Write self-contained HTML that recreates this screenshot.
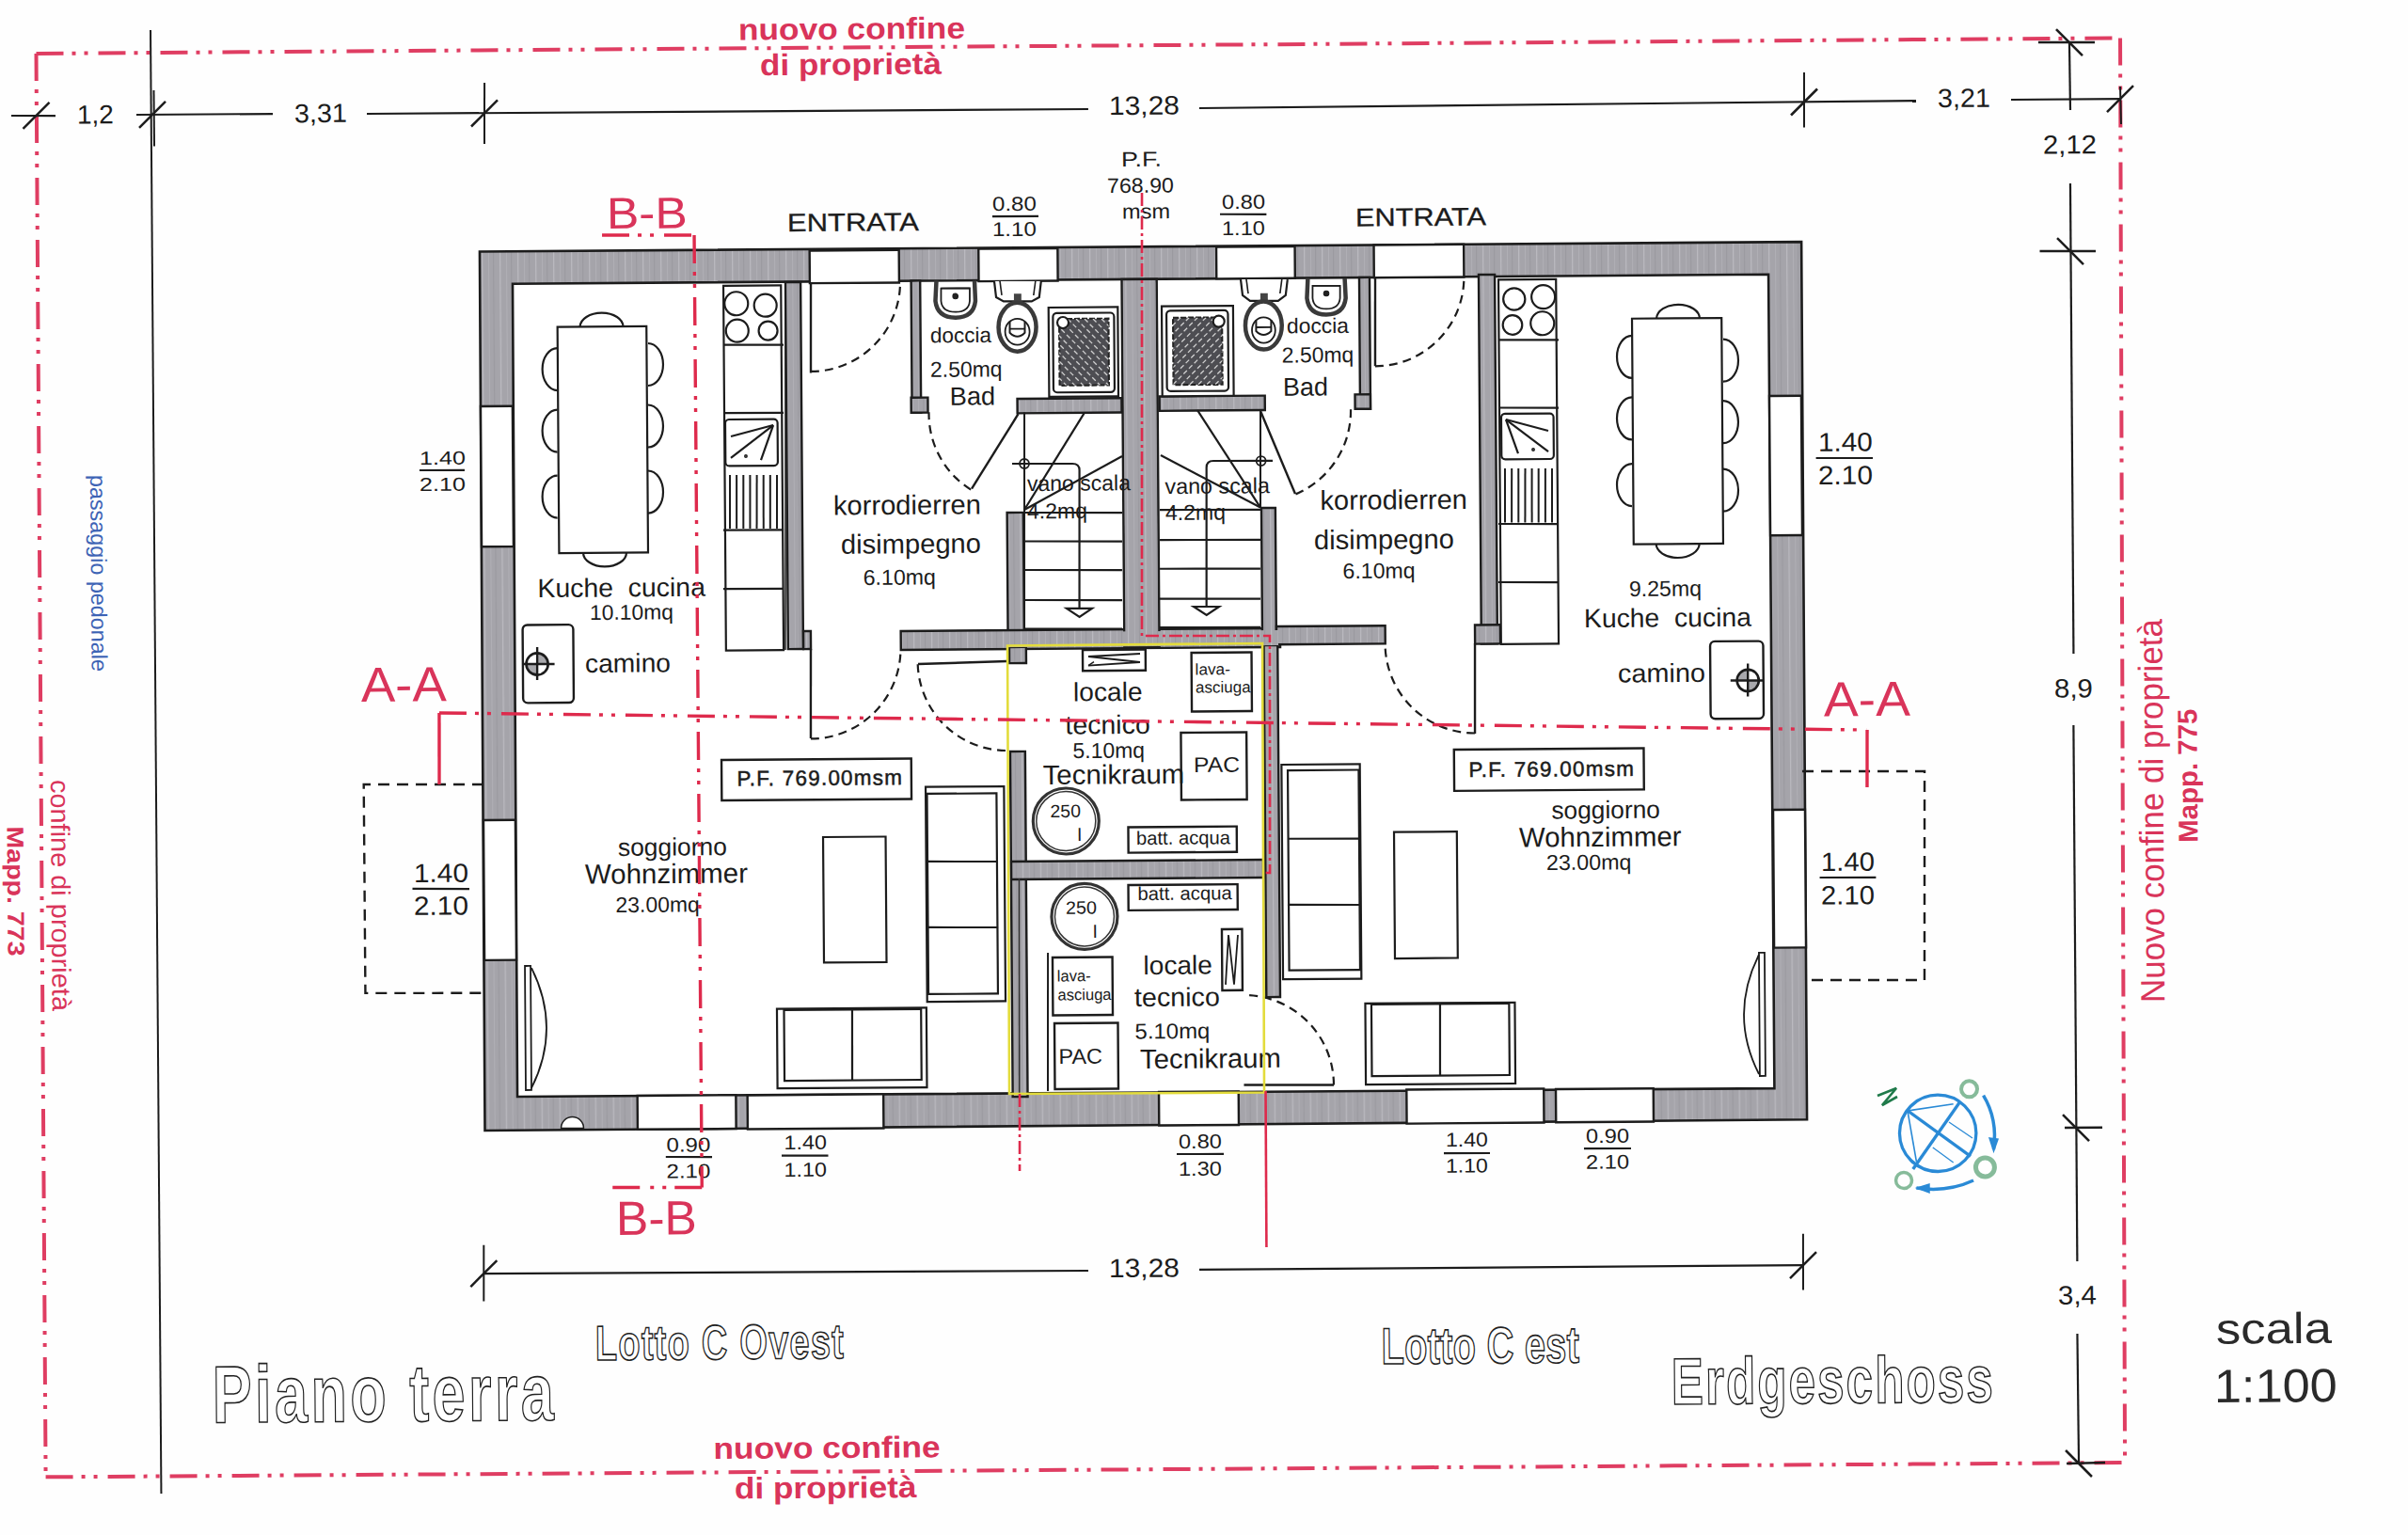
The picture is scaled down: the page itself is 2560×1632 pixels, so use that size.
<!DOCTYPE html>
<html><head><meta charset="utf-8"><style>
html,body{margin:0;padding:0;background:#fff;}
svg{display:block;}
text{font-family:"Liberation Sans",sans-serif;}
</style></head><body>
<svg width="2560" height="1632" viewBox="0 0 2560 1632">
<defs><pattern id="wp" patternUnits="userSpaceOnUse" width="19" height="40"><rect width="19" height="40" fill="#a5a4aa"/><rect x="3" width="1.3" height="40" fill="#bab9bf"/><rect x="10" width="0.9" height="40" fill="#b2b1b7"/><rect x="15" width="1.2" height="40" fill="#9b9aa0"/></pattern></defs>
<rect x="0" y="0" width="2560" height="1632" fill="#fefefe"/>
<g transform="rotate(-0.42 1280 816)">
<line x1="44.1" y1="47.9" x2="2259.7" y2="47.6" stroke="#df3d62" stroke-width="4" stroke-linecap="butt" stroke-dasharray="29 9 4 9 4 11" stroke-dashoffset="0"/>
<line x1="2259.7" y1="47.6" x2="2253.6" y2="1562.2" stroke="#df3d62" stroke-width="4" stroke-linecap="butt" stroke-dasharray="29 9 4 9 4 11" stroke-dashoffset="0"/>
<line x1="43.1" y1="1561.3" x2="2253.6" y2="1562.2" stroke="#df3d62" stroke-width="4" stroke-linecap="butt" stroke-dasharray="29 9 4 9 4 11" stroke-dashoffset="0"/>
<line x1="44.1" y1="47.9" x2="43.1" y2="1561.3" stroke="#df3d62" stroke-width="4" stroke-linecap="butt" stroke-dasharray="29 9 4 9 4 11" stroke-dashoffset="0"/>
<line x1="165.8" y1="23.8" x2="165.8" y2="1579.9" stroke="#1c1c1c" stroke-width="2" stroke-linecap="butt"/>
<polygon points="514,261.9 1919.2,261.8 1918.3,1195 512.7,1196.4" fill="url(#wp)" stroke="#1c1c1c" stroke-width="2.6" stroke-linejoin="miter"/>
<polygon points="548.8,296.4 1883.9,296.2 1883.9,1161.6 547.5,1160.6" fill="#fff" stroke="#1c1c1c" stroke-width="2.6" stroke-linejoin="miter"/>
<rect x="838.8" y="296.8" width="16.1" height="390.1" fill="url(#wp)" stroke="#1c1c1c" stroke-width="2.4"/>
<rect x="855.1" y="667.9" width="7.9" height="19.1" fill="url(#wp)" stroke="#1c1c1c" stroke-width="2.4"/>
<rect x="972.4" y="296.2" width="9.6" height="140.3" fill="url(#wp)" stroke="#1c1c1c" stroke-width="2.4"/>
<rect x="971.5" y="420.5" width="17.8" height="16" fill="url(#wp)" stroke="#1c1c1c" stroke-width="2.4"/>
<rect x="1084.4" y="422.6" width="110.9" height="15.3" fill="url(#wp)" stroke="#1c1c1c" stroke-width="2.4"/>
<rect x="1072.6" y="543.5" width="17.3" height="143.6" fill="url(#wp)" stroke="#1c1c1c" stroke-width="2.4"/>
<rect x="958.7" y="668.6" width="403.3" height="20" fill="url(#wp)" stroke="#1c1c1c" stroke-width="2.4"/>
<rect x="1196.3" y="296.4" width="37.2" height="391.3" fill="url(#wp)" stroke="#1c1c1c" stroke-width="2.4"/>
<rect x="1073.9" y="686.5" width="17.9" height="17.1" fill="url(#wp)" stroke="#1c1c1c" stroke-width="2.4"/>
<rect x="1074.1" y="797.5" width="15.9" height="367.1" fill="url(#wp)" stroke="#1c1c1c" stroke-width="2.4"/>
<rect x="1074.3" y="914.5" width="267.9" height="19" fill="url(#wp)" stroke="#1c1c1c" stroke-width="2.4"/>
<rect x="1344.5" y="684.5" width="14.7" height="376.1" fill="url(#wp)" stroke="#1c1c1c" stroke-width="2.4"/>
<rect x="1343" y="540.5" width="14.9" height="146.1" fill="url(#wp)" stroke="#1c1c1c" stroke-width="2.4"/>
<rect x="1235.5" y="421.1" width="112.1" height="15.4" fill="url(#wp)" stroke="#1c1c1c" stroke-width="2.4"/>
<rect x="1448.8" y="296.2" width="11" height="139.8" fill="url(#wp)" stroke="#1c1c1c" stroke-width="2.4"/>
<rect x="1443.4" y="420.6" width="16.4" height="15.4" fill="url(#wp)" stroke="#1c1c1c" stroke-width="2.4"/>
<rect x="1358.1" y="666.6" width="115.6" height="19.2" fill="url(#wp)" stroke="#1c1c1c" stroke-width="2.4"/>
<rect x="1575.8" y="294.2" width="17.1" height="392.5" fill="url(#wp)" stroke="#1c1c1c" stroke-width="2.4"/>
<rect x="1569.1" y="666.6" width="26.9" height="20.1" fill="url(#wp)" stroke="#1c1c1c" stroke-width="2.4"/>
<rect x="1197.8" y="299.4" width="34.2" height="386.3" fill="url(#wp)" stroke="none"/>
<rect x="963.1" y="670.7" width="396.9" height="15.9" fill="url(#wp)" stroke="none"/>
<rect x="864.7" y="263.4" width="95" height="34.7" fill="#fff" stroke="#1c1c1c" stroke-width="2.4"/>
<rect x="1044.3" y="262.9" width="84.1" height="34.5" fill="#fff" stroke="#1c1c1c" stroke-width="2.4"/>
<rect x="1297.1" y="262.7" width="83.5" height="33.8" fill="#fff" stroke="#1c1c1c" stroke-width="2.4"/>
<rect x="1464.6" y="261.8" width="95.6" height="34.7" fill="#fff" stroke="#1c1c1c" stroke-width="2.4"/>
<rect x="513.8" y="426.4" width="33.9" height="149.3" fill="#fff" stroke="#1c1c1c" stroke-width="2.4"/>
<rect x="513.6" y="866.4" width="33.9" height="148.9" fill="#fff" stroke="#1c1c1c" stroke-width="2.4"/>
<rect x="1883.9" y="425.4" width="33.9" height="148.3" fill="#fff" stroke="#1c1c1c" stroke-width="2.4"/>
<rect x="1884.7" y="865.4" width="33.9" height="146.7" fill="#fff" stroke="#1c1c1c" stroke-width="2.4"/>
<rect x="675.1" y="1160.6" width="104.7" height="35.8" fill="#fff" stroke="#1c1c1c" stroke-width="2.4"/>
<rect x="792.1" y="1160.9" width="144.5" height="36.1" fill="#fff" stroke="#1c1c1c" stroke-width="2.4"/>
<rect x="1229.5" y="1160.6" width="84.7" height="35.6" fill="#fff" stroke="#1c1c1c" stroke-width="2.4"/>
<rect x="1492.8" y="1160.1" width="145.9" height="36.1" fill="#fff" stroke="#1c1c1c" stroke-width="2.4"/>
<rect x="1651.5" y="1160.7" width="103.7" height="35.3" fill="#fff" stroke="#1c1c1c" stroke-width="2.4"/>
<path d="M 593.7 1194.5 A 12 12 0 0 1 617.7 1194.7 Z" fill="#fff" stroke="#1c1c1c" stroke-width="1.5"/>
<line x1="17.1" y1="113.7" x2="64.1" y2="114.1" stroke="#1c1c1c" stroke-width="2.2" stroke-linecap="butt"/>
<line x1="150.1" y1="113.7" x2="295.1" y2="113.8" stroke="#1c1c1c" stroke-width="2.2" stroke-linecap="butt"/>
<line x1="395.1" y1="114.5" x2="1162.1" y2="115.1" stroke="#1c1c1c" stroke-width="2.2" stroke-linecap="butt"/>
<line x1="1280.1" y1="115" x2="2042.2" y2="112.6" stroke="#1c1c1c" stroke-width="2.2" stroke-linecap="butt"/>
<line x1="2143.2" y1="112.3" x2="2259.2" y2="112.2" stroke="#1c1c1c" stroke-width="2.2" stroke-linecap="butt"/>
<line x1="29.5" y1="127.8" x2="57.7" y2="100" stroke="#1c1c1c" stroke-width="2.5" stroke-linecap="butt"/>
<line x1="153" y1="127.7" x2="181.2" y2="99.9" stroke="#1c1c1c" stroke-width="2.5" stroke-linecap="butt"/>
<line x1="506" y1="128.8" x2="534.2" y2="101" stroke="#1c1c1c" stroke-width="2.5" stroke-linecap="butt"/>
<line x1="1909.1" y1="127.1" x2="1937.3" y2="99.3" stroke="#1c1c1c" stroke-width="2.5" stroke-linecap="butt"/>
<line x1="2245.1" y1="126.1" x2="2273.3" y2="98.3" stroke="#1c1c1c" stroke-width="2.5" stroke-linecap="butt"/>
<line x1="168.8" y1="87.8" x2="168.9" y2="147.3" stroke="#1c1c1c" stroke-width="2" stroke-linecap="butt"/>
<line x1="520.4" y1="82.4" x2="519.9" y2="147.4" stroke="#1c1c1c" stroke-width="2" stroke-linecap="butt"/>
<line x1="1923.4" y1="81.7" x2="1923" y2="140.2" stroke="#1c1c1c" stroke-width="2" stroke-linecap="butt"/>
<line x1="2259.3" y1="99.2" x2="2260" y2="139.2" stroke="#1c1c1c" stroke-width="2" stroke-linecap="butt"/>
<line x1="2205.6" y1="51.8" x2="2206.1" y2="123.8" stroke="#1c1c1c" stroke-width="2.2" stroke-linecap="butt"/>
<line x1="2205.5" y1="201.8" x2="2205.3" y2="701.8" stroke="#1c1c1c" stroke-width="2.2" stroke-linecap="butt"/>
<line x1="2204.7" y1="777.8" x2="2204.5" y2="1347.8" stroke="#1c1c1c" stroke-width="2.2" stroke-linecap="butt"/>
<line x1="2204" y1="1424.8" x2="2204.6" y2="1562.8" stroke="#1c1c1c" stroke-width="2.2" stroke-linecap="butt"/>
<line x1="2172.6" y1="51.5" x2="2232.6" y2="52" stroke="#1c1c1c" stroke-width="2.4" stroke-linecap="butt"/>
<line x1="2191.7" y1="37.7" x2="2219.5" y2="65.9" stroke="#1c1c1c" stroke-width="2.5" stroke-linecap="butt"/>
<line x1="2172.5" y1="273.5" x2="2232" y2="274" stroke="#1c1c1c" stroke-width="2.4" stroke-linecap="butt"/>
<line x1="2191.1" y1="259.7" x2="2218.9" y2="287.9" stroke="#1c1c1c" stroke-width="2.5" stroke-linecap="butt"/>
<line x1="2192.2" y1="1205.7" x2="2232.2" y2="1205.7" stroke="#1c1c1c" stroke-width="2.4" stroke-linecap="butt"/>
<line x1="2190.3" y1="1191.7" x2="2218.1" y2="1219.9" stroke="#1c1c1c" stroke-width="2.5" stroke-linecap="butt"/>
<line x1="2191.6" y1="1562.7" x2="2232.6" y2="1562" stroke="#1c1c1c" stroke-width="2.4" stroke-linecap="butt"/>
<line x1="2190.7" y1="1548.7" x2="2218.4" y2="1576.9" stroke="#1c1c1c" stroke-width="2.5" stroke-linecap="butt"/>
<line x1="510.4" y1="1348.4" x2="1153.1" y2="1350.1" stroke="#1c1c1c" stroke-width="2.2" stroke-linecap="butt"/>
<line x1="1271.1" y1="1349.9" x2="1913.1" y2="1349.7" stroke="#1c1c1c" stroke-width="2.2" stroke-linecap="butt"/>
<line x1="496.3" y1="1362.3" x2="524.5" y2="1334.5" stroke="#1c1c1c" stroke-width="2.5" stroke-linecap="butt"/>
<line x1="1899" y1="1363.6" x2="1927.2" y2="1335.8" stroke="#1c1c1c" stroke-width="2.5" stroke-linecap="butt"/>
<line x1="510.6" y1="1318.1" x2="510.2" y2="1377.9" stroke="#1c1c1c" stroke-width="2" stroke-linecap="butt"/>
<line x1="1913.3" y1="1316.4" x2="1912.9" y2="1376.2" stroke="#1c1c1c" stroke-width="2" stroke-linecap="butt"/>
<text x="87" y="122.7" font-size="28" fill="#1c1c1c" font-weight="normal" text-anchor="start" textLength="39" lengthAdjust="spacingAndGlyphs">1,2</text>
<text x="318.1" y="123.1" font-size="28" fill="#1c1c1c" font-weight="normal" text-anchor="start" textLength="56" lengthAdjust="spacingAndGlyphs">3,31</text>
<text x="1184.1" y="121.3" font-size="28" fill="#1c1c1c" font-weight="normal" text-anchor="start" textLength="75" lengthAdjust="spacingAndGlyphs">13,28</text>
<text x="2065.1" y="119.7" font-size="28" fill="#1c1c1c" font-weight="normal" text-anchor="start" textLength="56" lengthAdjust="spacingAndGlyphs">3,21</text>
<text x="2176.8" y="170.1" font-size="28" fill="#1c1c1c" font-weight="normal" text-anchor="start" textLength="57" lengthAdjust="spacingAndGlyphs">2,12</text>
<text x="2184.5" y="748.2" font-size="28" fill="#1c1c1c" font-weight="normal" text-anchor="start" textLength="41" lengthAdjust="spacingAndGlyphs">8,9</text>
<text x="2183.8" y="1393.3" font-size="28" fill="#1c1c1c" font-weight="normal" text-anchor="start" textLength="41" lengthAdjust="spacingAndGlyphs">3,4</text>
<text x="1175" y="1357.2" font-size="28" fill="#1c1c1c" font-weight="normal" text-anchor="start" textLength="75" lengthAdjust="spacingAndGlyphs">13,28</text>
<text x="2351.5" y="1436.5" font-size="46" fill="#2a2a2a" font-weight="normal" text-anchor="start" textLength="123" lengthAdjust="spacingAndGlyphs">scala</text>
<text x="2349" y="1498.9" font-size="50" fill="#2a2a2a" font-weight="normal" text-anchor="start" textLength="131" lengthAdjust="spacingAndGlyphs">1:100</text>
<text x="1059.3" y="222.4" font-size="21" fill="#1c1c1c" font-weight="normal" text-anchor="start" textLength="47" lengthAdjust="spacingAndGlyphs">0.80</text>
<text x="1059.1" y="249.4" font-size="21" fill="#1c1c1c" font-weight="normal" text-anchor="start" textLength="47" lengthAdjust="spacingAndGlyphs">1.10</text>
<line x1="1059.3" y1="228.4" x2="1108.3" y2="228.7" stroke="#1c1c1c" stroke-width="2.2" stroke-linecap="butt"/>
<text x="1303.4" y="222.2" font-size="21" fill="#1c1c1c" font-weight="normal" text-anchor="start" textLength="46" lengthAdjust="spacingAndGlyphs">0.80</text>
<text x="1303.1" y="250.2" font-size="21" fill="#1c1c1c" font-weight="normal" text-anchor="start" textLength="46" lengthAdjust="spacingAndGlyphs">1.10</text>
<line x1="1301.3" y1="227.9" x2="1350.7" y2="228.3" stroke="#1c1c1c" stroke-width="2.2" stroke-linecap="butt"/>
<text x="448.4" y="487.9" font-size="20" fill="#1c1c1c" font-weight="normal" text-anchor="start" textLength="49" lengthAdjust="spacingAndGlyphs">1.40</text>
<text x="448.2" y="515.9" font-size="20" fill="#1c1c1c" font-weight="normal" text-anchor="start" textLength="49" lengthAdjust="spacingAndGlyphs">2.10</text>
<line x1="448.3" y1="493.9" x2="496.3" y2="494.2" stroke="#1c1c1c" stroke-width="2.2" stroke-linecap="butt"/>
<text x="1935.4" y="484.6" font-size="28" fill="#1c1c1c" font-weight="normal" text-anchor="start" textLength="58" lengthAdjust="spacingAndGlyphs">1.40</text>
<text x="1935.2" y="519.8" font-size="28" fill="#1c1c1c" font-weight="normal" text-anchor="start" textLength="58" lengthAdjust="spacingAndGlyphs">2.10</text>
<line x1="1933" y1="491.8" x2="1993.4" y2="492.2" stroke="#1c1c1c" stroke-width="2.2" stroke-linecap="butt"/>
<text x="439.1" y="931.8" font-size="28" fill="#1c1c1c" font-weight="normal" text-anchor="start" textLength="58" lengthAdjust="spacingAndGlyphs">1.40</text>
<text x="438.9" y="966.6" font-size="28" fill="#1c1c1c" font-weight="normal" text-anchor="start" textLength="58" lengthAdjust="spacingAndGlyphs">2.10</text>
<line x1="437.6" y1="938.8" x2="498.1" y2="939.3" stroke="#1c1c1c" stroke-width="2.2" stroke-linecap="butt"/>
<text x="1935.2" y="930.8" font-size="28" fill="#1c1c1c" font-weight="normal" text-anchor="start" textLength="57" lengthAdjust="spacingAndGlyphs">1.40</text>
<text x="1934.9" y="966.4" font-size="28" fill="#1c1c1c" font-weight="normal" text-anchor="start" textLength="57" lengthAdjust="spacingAndGlyphs">2.10</text>
<line x1="1933.7" y1="937.8" x2="1993.5" y2="938.2" stroke="#1c1c1c" stroke-width="2.2" stroke-linecap="butt"/>
<text x="705.5" y="1220.4" font-size="21" fill="#1c1c1c" font-weight="normal" text-anchor="start" textLength="47" lengthAdjust="spacingAndGlyphs">0.90</text>
<text x="705.3" y="1248.3" font-size="21" fill="#1c1c1c" font-weight="normal" text-anchor="start" textLength="47" lengthAdjust="spacingAndGlyphs">2.10</text>
<line x1="704.8" y1="1225.8" x2="754" y2="1226.2" stroke="#1c1c1c" stroke-width="2.2" stroke-linecap="butt"/>
<text x="830.5" y="1218.7" font-size="21" fill="#1c1c1c" font-weight="normal" text-anchor="start" textLength="45.5" lengthAdjust="spacingAndGlyphs">1.40</text>
<text x="830.3" y="1247.7" font-size="21" fill="#1c1c1c" font-weight="normal" text-anchor="start" textLength="45.5" lengthAdjust="spacingAndGlyphs">1.10</text>
<line x1="828" y1="1225.3" x2="877.5" y2="1225.7" stroke="#1c1c1c" stroke-width="2.2" stroke-linecap="butt"/>
<text x="1250" y="1220.8" font-size="21" fill="#1c1c1c" font-weight="normal" text-anchor="start" textLength="46" lengthAdjust="spacingAndGlyphs">0.80</text>
<text x="1249.8" y="1249.8" font-size="21" fill="#1c1c1c" font-weight="normal" text-anchor="start" textLength="46" lengthAdjust="spacingAndGlyphs">1.30</text>
<line x1="1248" y1="1226.8" x2="1298" y2="1227.1" stroke="#1c1c1c" stroke-width="2.2" stroke-linecap="butt"/>
<text x="1534" y="1220.9" font-size="21" fill="#1c1c1c" font-weight="normal" text-anchor="start" textLength="45" lengthAdjust="spacingAndGlyphs">1.40</text>
<text x="1533.8" y="1248.5" font-size="21" fill="#1c1c1c" font-weight="normal" text-anchor="start" textLength="45" lengthAdjust="spacingAndGlyphs">1.10</text>
<line x1="1532" y1="1227.9" x2="1581" y2="1228.2" stroke="#1c1c1c" stroke-width="2.2" stroke-linecap="butt"/>
<text x="1683.1" y="1218" font-size="21" fill="#1c1c1c" font-weight="normal" text-anchor="start" textLength="46" lengthAdjust="spacingAndGlyphs">0.90</text>
<text x="1682.9" y="1245.6" font-size="21" fill="#1c1c1c" font-weight="normal" text-anchor="start" textLength="46" lengthAdjust="spacingAndGlyphs">2.10</text>
<line x1="1681" y1="1224" x2="1731" y2="1224.3" stroke="#1c1c1c" stroke-width="2.2" stroke-linecap="butt"/>
<text x="1196.7" y="176.4" font-size="22" fill="#1c1c1c" font-weight="normal" text-anchor="start" textLength="43" lengthAdjust="spacingAndGlyphs">P.F.</text>
<text x="1181.5" y="204.3" font-size="22" fill="#1c1c1c" font-weight="normal" text-anchor="start" textLength="71" lengthAdjust="spacingAndGlyphs">768.90</text>
<text x="1197.3" y="231.9" font-size="22" fill="#1c1c1c" font-weight="normal" text-anchor="start" textLength="51" lengthAdjust="spacingAndGlyphs">msm</text>
<text x="841.2" y="242.8" font-size="27" fill="#1c1c1c" font-weight="normal" text-anchor="start" textLength="140" lengthAdjust="spacingAndGlyphs" stroke="#1c1c1c" stroke-width="0.3">ENTRATA</text>
<text x="1445.2" y="241.7" font-size="27" fill="#1c1c1c" font-weight="normal" text-anchor="start" textLength="139" lengthAdjust="spacingAndGlyphs" stroke="#1c1c1c" stroke-width="0.3">ENTRATA</text>
<text x="790.7" y="38.9" font-size="32" fill="#d9345a" font-weight="bold" text-anchor="start" textLength="241" lengthAdjust="spacingAndGlyphs">nuovo confine</text>
<text x="813.4" y="76.6" font-size="32" fill="#d9345a" font-weight="bold" text-anchor="start" textLength="193" lengthAdjust="spacingAndGlyphs">di proprietà</text>
<text x="753.2" y="1547.2" font-size="32" fill="#d9345a" font-weight="bold" text-anchor="start" textLength="241.2" lengthAdjust="spacingAndGlyphs">nuovo confine</text>
<text x="775.3" y="1589.7" font-size="32" fill="#d9345a" font-weight="bold" text-anchor="start" textLength="193.5" lengthAdjust="spacingAndGlyphs">di proprietà</text>
<text x="649.2" y="238.4" font-size="47" fill="#d9345a" font-weight="normal" text-anchor="start" textLength="86" lengthAdjust="spacingAndGlyphs">B-B</text>
<text x="651.4" y="1308.4" font-size="51" fill="#d9345a" font-weight="normal" text-anchor="start" textLength="86" lengthAdjust="spacingAndGlyphs">B-B</text>
<text x="384.5" y="739.4" font-size="52" fill="#d9345a" font-weight="normal" text-anchor="start" textLength="91" lengthAdjust="spacingAndGlyphs">A-A</text>
<text x="1939.4" y="766.3" font-size="52" fill="#d9345a" font-weight="normal" text-anchor="start" textLength="92" lengthAdjust="spacingAndGlyphs">A-A</text>
<text x="98.3" y="496.3" font-size="23.5" fill="#3d63b5" font-weight="normal" text-anchor="start" textLength="209" lengthAdjust="spacingAndGlyphs" transform="rotate(90 98.3 496.3)">passaggio pedonale</text>
<text x="53.9" y="820" font-size="28" fill="#d9345a" font-weight="normal" text-anchor="start" textLength="246" lengthAdjust="spacingAndGlyphs" transform="rotate(90 53.9 820)">confine di proprietà</text>
<text x="7.1" y="869.2" font-size="25" fill="#d9345a" font-weight="bold" text-anchor="start" textLength="138" lengthAdjust="spacingAndGlyphs" transform="rotate(90 7.1 869.2)">Mapp. 773</text>
<text x="2299.5" y="1073.5" font-size="36" fill="#d9345a" font-weight="normal" text-anchor="start" textLength="408" lengthAdjust="spacingAndGlyphs" transform="rotate(-90 2299.5 1073.5)">Nuovo confine di proprietà</text>
<text x="2335.9" y="903.4" font-size="29" fill="#d9345a" font-weight="bold" text-anchor="start" textLength="142" lengthAdjust="spacingAndGlyphs" transform="rotate(-90 2335.9 903.4)">Mapp. 775</text>
<g transform="translate(220.9 1504.7) scale(0.73 1)"><text x="0" y="0" font-size="86" font-weight="bold" fill="#fff" stroke="#222" stroke-width="1.4" vector-effect="non-scaling-stroke" textLength="497.3" lengthAdjust="spacing">Piano terra</text></g>
<g transform="translate(628.4 1441.2) scale(0.73 1)"><text x="0" y="0" font-size="52" font-weight="bold" fill="#fff" stroke="#222" stroke-width="1.4" vector-effect="non-scaling-stroke" textLength="361.6" lengthAdjust="spacing">Lotto C Ovest</text></g>
<g transform="translate(1464 1451.4) scale(0.73 1)"><text x="0" y="0" font-size="54.5" font-weight="bold" fill="#fff" stroke="#222" stroke-width="1.4" vector-effect="non-scaling-stroke" textLength="288.1" lengthAdjust="spacing">Lotto C est</text></g>
<g transform="translate(1772 1496.6) scale(0.73 1)"><text x="0" y="0" font-size="70" font-weight="bold" fill="#fff" stroke="#222" stroke-width="1.4" vector-effect="non-scaling-stroke" textLength="468.5" lengthAdjust="spacing">Erdgeschoss</text></g>
<line x1="865.8" y1="296.9" x2="865.1" y2="393.4" stroke="#1c1c1c" stroke-width="2.4" stroke-linecap="butt"/>
<path d="M 865.1 391.9 A 95 95 0 0 0 960.8 297.6" fill="none" stroke="#1c1c1c" stroke-width="2.2" stroke-dasharray="9 6"/>
<line x1="862.9" y1="686.9" x2="862.2" y2="781.9" stroke="#1c1c1c" stroke-width="2.4" stroke-linecap="butt"/>
<path d="M 862.2 782.4 A 95.5 95.5 0 0 0 958.4 687.6" fill="none" stroke="#1c1c1c" stroke-width="2.2" stroke-dasharray="9 6"/>
<line x1="1085.3" y1="438.6" x2="1035.2" y2="517.8" stroke="#1c1c1c" stroke-width="2.4" stroke-linecap="butt"/>
<path d="M 1034.3 518.8 A 95 95 0 0 1 990.3 436.2" fill="none" stroke="#1c1c1c" stroke-width="2.2" stroke-dasharray="9 6"/>
<line x1="1071.4" y1="701.5" x2="976.8" y2="703.8" stroke="#1c1c1c" stroke-width="2.4" stroke-linecap="butt"/>
<path d="M 976.5 704.1 A 95 95 0 0 0 1070.7 796.5" fill="none" stroke="#1c1c1c" stroke-width="2.2" stroke-dasharray="9 6"/>
<line x1="1465.8" y1="296.3" x2="1465.1" y2="390.7" stroke="#1c1c1c" stroke-width="2.4" stroke-linecap="butt"/>
<path d="M 1465.1 390.7 A 94.4 94.4 0 0 0 1560.2 297" fill="none" stroke="#1c1c1c" stroke-width="2.2" stroke-dasharray="9 6"/>
<line x1="1569" y1="686.1" x2="1568.3" y2="782.1" stroke="#1c1c1c" stroke-width="2.4" stroke-linecap="butt"/>
<path d="M 1568.3 781.6 A 95.5 95.5 0 0 1 1473.5 685.4" fill="none" stroke="#1c1c1c" stroke-width="2.2" stroke-dasharray="9 6"/>
<line x1="1342.8" y1="437.5" x2="1379.1" y2="525.7" stroke="#1c1c1c" stroke-width="2.4" stroke-linecap="butt"/>
<path d="M 1379.6 526.1 A 96 96 0 0 0 1438.8 436.5" fill="none" stroke="#1c1c1c" stroke-width="2.2" stroke-dasharray="9 6"/>
<line x1="1320" y1="1153.8" x2="1415.5" y2="1154.5" stroke="#1c1c1c" stroke-width="2.4" stroke-linecap="butt"/>
<path d="M 1415.5 1154.5 A 95.5 95.5 0 0 0 1320.7 1058.3" fill="none" stroke="#1c1c1c" stroke-width="2.2" stroke-dasharray="9 6"/>
<rect x="556.5" y="1021.7" width="6" height="132" fill="#fff" stroke="#1c1c1c" stroke-width="1.8"/>
<path d="M 563.5 1023.8 Q 595 1088 562.5 1151.7" fill="none" stroke="#1c1c1c" stroke-width="1.8"/>
<rect x="1868.5" y="1017.3" width="6" height="131" fill="#fff" stroke="#1c1c1c" stroke-width="1.8"/>
<path d="M 1868.5 1019.3 Q 1836.1 1083.1 1867.6 1146.3" fill="none" stroke="#1c1c1c" stroke-width="1.8"/>
<polyline points="513.9,828.4 386.6,827.5 386.7,1049.3 513.3,1050.2" fill="none" stroke="#1c1c1c" stroke-width="2.4" stroke-linejoin="miter" stroke-dasharray="12 8"/>
<polyline points="1916,824.7 2046,825.6 2044.3,1047.6 1916.3,1046.7" fill="none" stroke="#1c1c1c" stroke-width="2.4" stroke-linejoin="miter" stroke-dasharray="12 8"/>
<rect x="596.1" y="342.6" width="94.6" height="240.5" fill="#fff" stroke="#1c1c1c" stroke-width="2.2"/>
<path d="M 620 342.7 A 23.0 15 0 0 1 666 343.1" fill="none" stroke="#1c1c1c" stroke-width="2.2"/>
<path d="M 621.7 582.6 A 23.0 15 0 0 0 667.7 582.9" fill="none" stroke="#1c1c1c" stroke-width="2.2"/>
<path d="M 595.9 365 A 16 22.5 0 0 0 595.6 410" fill="none" stroke="#1c1c1c" stroke-width="2.2"/>
<path d="M 595.4 430.5 A 16 22.5 0 0 0 595.1 475.5" fill="none" stroke="#1c1c1c" stroke-width="2.2"/>
<path d="M 594.9 500.5 A 16 22.5 0 0 0 594.6 545.5" fill="none" stroke="#1c1c1c" stroke-width="2.2"/>
<path d="M 692.3 360.7 A 16 22.5 0 0 1 692 405.7" fill="none" stroke="#1c1c1c" stroke-width="2.2"/>
<path d="M 691.8 426.2 A 16 22.5 0 0 1 691.5 471.2" fill="none" stroke="#1c1c1c" stroke-width="2.2"/>
<path d="M 691.3 496.2 A 16 22.5 0 0 1 691 541.2" fill="none" stroke="#1c1c1c" stroke-width="2.2"/>
<rect x="1738.5" y="342.1" width="95.2" height="239.9" fill="#fff" stroke="#1c1c1c" stroke-width="2.2"/>
<path d="M 1764.5 342.3 A 23.0 15 0 0 1 1810.5 342.7" fill="none" stroke="#1c1c1c" stroke-width="2.2"/>
<path d="M 1762.4 581.5 A 23.0 15 0 0 0 1808.4 581.9" fill="none" stroke="#1c1c1c" stroke-width="2.2"/>
<path d="M 1738.4 360.3 A 16 22.5 0 0 0 1738 405.3" fill="none" stroke="#1c1c1c" stroke-width="2.2"/>
<path d="M 1737.9 425.8 A 16 22.5 0 0 0 1737.5 470.8" fill="none" stroke="#1c1c1c" stroke-width="2.2"/>
<path d="M 1737.4 496.4 A 16 22.5 0 0 0 1737 541.4" fill="none" stroke="#1c1c1c" stroke-width="2.2"/>
<path d="M 1835.3 364.6 A 16 22.5 0 0 1 1835 409.6" fill="none" stroke="#1c1c1c" stroke-width="2.2"/>
<path d="M 1834.8 430.2 A 16 22.5 0 0 1 1834.5 475.2" fill="none" stroke="#1c1c1c" stroke-width="2.2"/>
<path d="M 1834.3 502.6 A 16 22.5 0 0 1 1834 547.6" fill="none" stroke="#1c1c1c" stroke-width="2.2"/>
<rect x="772.8" y="300.1" width="61.2" height="387.7" fill="#fff" stroke="#1c1c1c" stroke-width="2.2"/>
<line x1="772.3" y1="362.9" x2="836.3" y2="363.3" stroke="#1c1c1c" stroke-width="2.2" stroke-linecap="butt"/>
<line x1="771.8" y1="435.3" x2="835.8" y2="435.7" stroke="#1c1c1c" stroke-width="2.2" stroke-linecap="butt"/>
<line x1="770.9" y1="559.8" x2="834.9" y2="560.2" stroke="#1c1c1c" stroke-width="2.2" stroke-linecap="butt"/>
<line x1="770.4" y1="622.3" x2="834.4" y2="622.7" stroke="#1c1c1c" stroke-width="2.2" stroke-linecap="butt"/>
<rect x="773.7" y="442.3" width="55.6" height="49.4" fill="none" stroke="#1c1c1c" stroke-width="2.2" rx="4"/>
<line x1="824.7" y1="448.7" x2="779.6" y2="460.3" stroke="#1c1c1c" stroke-width="2.2" stroke-linecap="butt"/>
<line x1="824.7" y1="448.7" x2="779.4" y2="483.3" stroke="#1c1c1c" stroke-width="2.2" stroke-linecap="butt"/>
<line x1="824.7" y1="448.7" x2="811.4" y2="485.6" stroke="#1c1c1c" stroke-width="2.2" stroke-linecap="butt"/>
<circle cx="795.4" cy="481.4" r="1.2" fill="none" stroke="#1c1c1c" stroke-width="1.5"/>
<line x1="778.3" y1="501.3" x2="777.9" y2="558.3" stroke="#1c1c1c" stroke-width="2" stroke-linecap="butt"/>
<line x1="785.4" y1="501.4" x2="785" y2="558.4" stroke="#1c1c1c" stroke-width="2" stroke-linecap="butt"/>
<line x1="792.6" y1="501.4" x2="792.2" y2="558.4" stroke="#1c1c1c" stroke-width="2" stroke-linecap="butt"/>
<line x1="799.7" y1="501.5" x2="799.3" y2="558.5" stroke="#1c1c1c" stroke-width="2" stroke-linecap="butt"/>
<line x1="806.9" y1="501.5" x2="806.4" y2="558.5" stroke="#1c1c1c" stroke-width="2" stroke-linecap="butt"/>
<line x1="814" y1="501.6" x2="813.6" y2="558.6" stroke="#1c1c1c" stroke-width="2" stroke-linecap="butt"/>
<line x1="821.1" y1="501.6" x2="820.7" y2="558.6" stroke="#1c1c1c" stroke-width="2" stroke-linecap="butt"/>
<line x1="828.3" y1="501.7" x2="827.9" y2="558.7" stroke="#1c1c1c" stroke-width="2" stroke-linecap="butt"/>
<circle cx="786.4" cy="319.1" r="12.5" fill="none" stroke="#1c1c1c" stroke-width="2.2"/>
<circle cx="817.3" cy="321.3" r="12" fill="none" stroke="#1c1c1c" stroke-width="2.2"/>
<circle cx="787.2" cy="348" r="12" fill="none" stroke="#1c1c1c" stroke-width="2.2"/>
<circle cx="820" cy="348.2" r="10" fill="none" stroke="#1c1c1c" stroke-width="2.2"/>
<line x1="838.8" y1="299.8" x2="835.9" y2="687.7" stroke="#1c1c1c" stroke-width="1.5" stroke-linecap="butt"/>
<rect x="1596.8" y="299.6" width="61.2" height="387.6" fill="#fff" stroke="#1c1c1c" stroke-width="2.2"/>
<line x1="1596.3" y1="363.6" x2="1660.3" y2="364.1" stroke="#1c1c1c" stroke-width="2.2" stroke-linecap="butt"/>
<line x1="1595.8" y1="435.8" x2="1659.8" y2="436.3" stroke="#1c1c1c" stroke-width="2.2" stroke-linecap="butt"/>
<line x1="1594.9" y1="559.3" x2="1658.9" y2="559.8" stroke="#1c1c1c" stroke-width="2.2" stroke-linecap="butt"/>
<line x1="1594.4" y1="621.3" x2="1658.4" y2="621.8" stroke="#1c1c1c" stroke-width="2.2" stroke-linecap="butt"/>
<rect x="1598.7" y="442.3" width="55.6" height="48.4" fill="none" stroke="#1c1c1c" stroke-width="2.2" rx="4"/>
<line x1="1603.7" y1="448.4" x2="1648.6" y2="460.7" stroke="#1c1c1c" stroke-width="2.2" stroke-linecap="butt"/>
<line x1="1603.7" y1="448.4" x2="1648.5" y2="482.7" stroke="#1c1c1c" stroke-width="2.2" stroke-linecap="butt"/>
<line x1="1603.7" y1="448.4" x2="1616.4" y2="484.5" stroke="#1c1c1c" stroke-width="2.2" stroke-linecap="butt"/>
<circle cx="1632.5" cy="480.6" r="1.2" fill="none" stroke="#1c1c1c" stroke-width="1.5"/>
<line x1="1602.3" y1="500.4" x2="1601.9" y2="557.9" stroke="#1c1c1c" stroke-width="2" stroke-linecap="butt"/>
<line x1="1609.5" y1="500.4" x2="1609" y2="557.9" stroke="#1c1c1c" stroke-width="2" stroke-linecap="butt"/>
<line x1="1616.6" y1="500.5" x2="1616.2" y2="558" stroke="#1c1c1c" stroke-width="2" stroke-linecap="butt"/>
<line x1="1623.8" y1="500.5" x2="1623.3" y2="558" stroke="#1c1c1c" stroke-width="2" stroke-linecap="butt"/>
<line x1="1630.9" y1="500.6" x2="1630.5" y2="558.1" stroke="#1c1c1c" stroke-width="2" stroke-linecap="butt"/>
<line x1="1638" y1="500.6" x2="1637.6" y2="558.1" stroke="#1c1c1c" stroke-width="2" stroke-linecap="butt"/>
<line x1="1645.2" y1="500.7" x2="1644.8" y2="558.2" stroke="#1c1c1c" stroke-width="2" stroke-linecap="butt"/>
<line x1="1652.3" y1="500.7" x2="1651.9" y2="558.2" stroke="#1c1c1c" stroke-width="2" stroke-linecap="butt"/>
<circle cx="1613.4" cy="320.4" r="11.6" fill="none" stroke="#1c1c1c" stroke-width="2.2"/>
<circle cx="1644.3" cy="318.3" r="12.5" fill="none" stroke="#1c1c1c" stroke-width="2.2"/>
<circle cx="1611.4" cy="347.9" r="10.3" fill="none" stroke="#1c1c1c" stroke-width="2.2"/>
<circle cx="1643.2" cy="346.4" r="12.5" fill="none" stroke="#1c1c1c" stroke-width="2.2"/>
<rect x="556.7" y="659.2" width="53.8" height="82.9" fill="#fff" stroke="#1c1c1c" stroke-width="2.4" rx="5"/>
<path d="M 571.9 700.8 L 572 689.2 A 11.6 11.6 0 0 1 583.5 700.9 Z" fill="#a8a8ac" stroke="#1c1c1c" stroke-width="0"/>
<path d="M 571.9 700.8 L 571.8 712.4 A 11.6 11.6 0 0 1 560.3 700.7 Z" fill="#a8a8ac" stroke="#1c1c1c" stroke-width="0"/>
<circle cx="571.9" cy="700.8" r="11.6" fill="none" stroke="#1c1c1c" stroke-width="2.6"/>
<line x1="556.9" y1="700.7" x2="590.4" y2="700.9" stroke="#1c1c1c" stroke-width="2.4" stroke-linecap="butt"/>
<line x1="572.1" y1="682.8" x2="571.8" y2="717.8" stroke="#1c1c1c" stroke-width="2.4" stroke-linecap="butt"/>
<rect x="1819" y="685.9" width="56.4" height="82.4" fill="#fff" stroke="#1c1c1c" stroke-width="2.4" rx="5"/>
<path d="M 1858.9 727.7 L 1847.3 727.7 A 11.6 11.6 0 0 1 1858.9 716.1 Z" fill="#a8a8ac" stroke="#1c1c1c" stroke-width="0"/>
<path d="M 1858.9 727.7 L 1870.5 727.8 A 11.6 11.6 0 0 1 1858.8 739.3 Z" fill="#a8a8ac" stroke="#1c1c1c" stroke-width="0"/>
<circle cx="1858.9" cy="727.7" r="11.6" fill="none" stroke="#1c1c1c" stroke-width="2.6"/>
<line x1="1840.4" y1="727.6" x2="1874.9" y2="727.9" stroke="#1c1c1c" stroke-width="2.4" stroke-linecap="butt"/>
<line x1="1859" y1="709.7" x2="1858.7" y2="744.7" stroke="#1c1c1c" stroke-width="2.4" stroke-linecap="butt"/>
<rect x="874.5" y="887" width="66.5" height="133.5" fill="#fff" stroke="#1c1c1c" stroke-width="2.2"/>
<rect x="983.9" y="834.5" width="83.3" height="228.4" fill="#fff" stroke="#1c1c1c" stroke-width="2.2"/>
<rect x="985.3" y="841.8" width="73.9" height="213" fill="none" stroke="#1c1c1c" stroke-width="2.2"/>
<line x1="984.8" y1="913.8" x2="1060.3" y2="914.4" stroke="#1c1c1c" stroke-width="2.2" stroke-linecap="butt"/>
<line x1="984.3" y1="983.8" x2="1059.8" y2="984.4" stroke="#1c1c1c" stroke-width="2.2" stroke-linecap="butt"/>
<rect x="824.1" y="1069.2" width="158.9" height="84.7" fill="#fff" stroke="#1c1c1c" stroke-width="2.2"/>
<rect x="831.6" y="1070.7" width="145.7" height="75.1" fill="none" stroke="#1c1c1c" stroke-width="2.2"/>
<line x1="904.1" y1="1071.3" x2="903.6" y2="1145.2" stroke="#1c1c1c" stroke-width="2.2" stroke-linecap="butt"/>
<rect x="767.1" y="804.2" width="201.7" height="43" fill="#fff" stroke="#1c1c1c" stroke-width="2.4"/>
<text x="783.4" y="831.8" font-size="22.5" fill="#1c1c1c" font-weight="normal" text-anchor="start" textLength="175.5" lengthAdjust="spacing" stroke="#1c1c1c" stroke-width="0.5">P.F. 769.00msm</text>
<rect x="1481.5" y="886.1" width="66.8" height="134.4" fill="#fff" stroke="#1c1c1c" stroke-width="2.2"/>
<rect x="1362.4" y="813.6" width="83.3" height="228.2" fill="#fff" stroke="#1c1c1c" stroke-width="2.2"/>
<rect x="1369" y="819.7" width="75.4" height="212.6" fill="none" stroke="#1c1c1c" stroke-width="2.2"/>
<line x1="1368.4" y1="892.4" x2="1445.4" y2="892.9" stroke="#1c1c1c" stroke-width="2.2" stroke-linecap="butt"/>
<line x1="1367.9" y1="962.6" x2="1444.9" y2="963.2" stroke="#1c1c1c" stroke-width="2.2" stroke-linecap="butt"/>
<rect x="1449.6" y="1068.2" width="159" height="86.2" fill="#fff" stroke="#1c1c1c" stroke-width="2.2"/>
<rect x="1456.1" y="1069.3" width="146.4" height="76.1" fill="none" stroke="#1c1c1c" stroke-width="2.2"/>
<line x1="1529.1" y1="1069.8" x2="1528.6" y2="1144.8" stroke="#1c1c1c" stroke-width="2.2" stroke-linecap="butt"/>
<rect x="1545.9" y="798.9" width="201.7" height="43.9" fill="#fff" stroke="#1c1c1c" stroke-width="2.4"/>
<text x="1561.3" y="828.1" font-size="22.5" fill="#1c1c1c" font-weight="normal" text-anchor="start" textLength="175.6" lengthAdjust="spacing" stroke="#1c1c1c" stroke-width="0.5">P.F. 769.00msm</text>
<path d="M 999.3 296.4 L 998.1 318 Q 1000 335.6 1019.3 335.8 Q 1038.5 335.9 1040.6 318.3 L 1039.8 296.7" fill="none" stroke="#3a3a3a" stroke-width="4.5"/>
<path d="M 1004.2 304.5 L 1004.1 318 Q 1005.1 329.7 1019.3 329.8 Q 1033.6 329.9 1034.6 318.2 L 1034.7 304.7 Z" fill="none" stroke="#1c1c1c" stroke-width="1.8"/>
<line x1="1004.2" y1="304.5" x2="1034.7" y2="304.7" stroke="#1c1c1c" stroke-width="1.5" stroke-linecap="butt"/>
<circle cx="1019.4" cy="313" r="2.8" fill="#222" stroke="#1c1c1c" stroke-width="1"/>
<path d="M 1060.8 297.4 L 1062.7 314.4 L 1070.6 318.9 L 1100.4 319.1 L 1108.5 314.7 L 1110.6 297.7" fill="#fff" stroke="#1c1c1c" stroke-width="2.2"/>
<line x1="1066.8" y1="297.4" x2="1068.7" y2="312.4" stroke="#1c1c1c" stroke-width="1.6" stroke-linecap="butt"/>
<line x1="1104.6" y1="297.7" x2="1102.5" y2="312.7" stroke="#1c1c1c" stroke-width="1.6" stroke-linecap="butt"/>
<rect x="1081.6" y="310.9" width="7.9" height="9.1" fill="#444" stroke="none"/>
<ellipse cx="1085" cy="346.3" rx="20" ry="25.9" fill="#fff" stroke="#3a3a3a" stroke-width="4.5"/>
<ellipse cx="1085" cy="351.3" rx="13" ry="13.9" fill="none" stroke="#1c1c1c" stroke-width="1.8"/>
<path d="M 1077 340.2 L 1076.9 352.2 Q 1084.9 360.3 1092.9 352.3 L 1093 340.3" fill="none" stroke="#1c1c1c" stroke-width="2"/>
<line x1="1077" y1="348.2" x2="1093" y2="348.3" stroke="#1c1c1c" stroke-width="1.8" stroke-linecap="butt"/>
<rect x="1118.3" y="325.8" width="73.6" height="94.9" fill="#fff" stroke="#1c1c1c" stroke-width="2.2"/>
<rect x="1122.9" y="331.8" width="65" height="84.3" fill="none" stroke="#1c1c1c" stroke-width="2.2" rx="4"/>
<clipPath id="shc1"><rect x="1129.5" y="337.9" width="52.5" height="70.9"/></clipPath>
<rect x="1129.5" y="337.9" width="52.5" height="70.9" fill="#4d4d52" stroke="#222" stroke-width="2" stroke-dasharray="6 2"/>
<g clip-path="url(#shc1)">
<line x1="1039.5" y1="337.2" x2="1109.5" y2="408.2" stroke="#d0d0d0" stroke-width="1.3" stroke-linecap="butt" stroke-dasharray="5 3" stroke-dashoffset="0"/>
<line x1="1048.5" y1="337.3" x2="1118.5" y2="408.3" stroke="#d0d0d0" stroke-width="1.3" stroke-linecap="butt" stroke-dasharray="5 3" stroke-dashoffset="0"/>
<line x1="1057.5" y1="337.4" x2="1127.5" y2="408.4" stroke="#d0d0d0" stroke-width="1.3" stroke-linecap="butt" stroke-dasharray="5 3" stroke-dashoffset="0"/>
<line x1="1066.5" y1="337.4" x2="1136.5" y2="408.4" stroke="#d0d0d0" stroke-width="1.3" stroke-linecap="butt" stroke-dasharray="5 3" stroke-dashoffset="0"/>
<line x1="1075.5" y1="337.5" x2="1145.5" y2="408.5" stroke="#d0d0d0" stroke-width="1.3" stroke-linecap="butt" stroke-dasharray="5 3" stroke-dashoffset="0"/>
<line x1="1084.5" y1="337.6" x2="1154.5" y2="408.6" stroke="#d0d0d0" stroke-width="1.3" stroke-linecap="butt" stroke-dasharray="5 3" stroke-dashoffset="0"/>
<line x1="1093.5" y1="337.6" x2="1163.5" y2="408.6" stroke="#d0d0d0" stroke-width="1.3" stroke-linecap="butt" stroke-dasharray="5 3" stroke-dashoffset="0"/>
<line x1="1102.5" y1="337.7" x2="1172.5" y2="408.7" stroke="#d0d0d0" stroke-width="1.3" stroke-linecap="butt" stroke-dasharray="5 3" stroke-dashoffset="0"/>
<line x1="1111.5" y1="337.8" x2="1181.5" y2="408.8" stroke="#d0d0d0" stroke-width="1.3" stroke-linecap="butt" stroke-dasharray="5 3" stroke-dashoffset="0"/>
<line x1="1120.5" y1="337.8" x2="1190.5" y2="408.8" stroke="#d0d0d0" stroke-width="1.3" stroke-linecap="butt" stroke-dasharray="5 3" stroke-dashoffset="0"/>
<line x1="1129.5" y1="337.9" x2="1199.5" y2="408.9" stroke="#d0d0d0" stroke-width="1.3" stroke-linecap="butt" stroke-dasharray="5 3" stroke-dashoffset="0"/>
<line x1="1138.5" y1="337.9" x2="1208.5" y2="409" stroke="#d0d0d0" stroke-width="1.3" stroke-linecap="butt" stroke-dasharray="5 3" stroke-dashoffset="0"/>
<line x1="1147.5" y1="338" x2="1217.5" y2="409" stroke="#d0d0d0" stroke-width="1.3" stroke-linecap="butt" stroke-dasharray="5 3" stroke-dashoffset="0"/>
<line x1="1156.5" y1="338.1" x2="1226.5" y2="409.1" stroke="#d0d0d0" stroke-width="1.3" stroke-linecap="butt" stroke-dasharray="5 3" stroke-dashoffset="0"/>
<line x1="1165.5" y1="338.1" x2="1235.5" y2="409.2" stroke="#d0d0d0" stroke-width="1.3" stroke-linecap="butt" stroke-dasharray="5 3" stroke-dashoffset="0"/>
<line x1="1174.5" y1="338.2" x2="1244.5" y2="409.2" stroke="#d0d0d0" stroke-width="1.3" stroke-linecap="butt" stroke-dasharray="5 3" stroke-dashoffset="0"/>
<line x1="1183.5" y1="338.3" x2="1253.5" y2="409.3" stroke="#d0d0d0" stroke-width="1.3" stroke-linecap="butt" stroke-dasharray="5 3" stroke-dashoffset="0"/>
<line x1="1192.5" y1="338.3" x2="1262.5" y2="409.4" stroke="#d0d0d0" stroke-width="1.3" stroke-linecap="butt" stroke-dasharray="5 3" stroke-dashoffset="0"/>
<line x1="1201.5" y1="338.4" x2="1271.5" y2="409.4" stroke="#d0d0d0" stroke-width="1.3" stroke-linecap="butt" stroke-dasharray="5 3" stroke-dashoffset="0"/>
<line x1="1210.5" y1="338.5" x2="1280.5" y2="409.5" stroke="#d0d0d0" stroke-width="1.3" stroke-linecap="butt" stroke-dasharray="5 3" stroke-dashoffset="0"/>
<line x1="1219.5" y1="338.5" x2="1289.5" y2="409.6" stroke="#d0d0d0" stroke-width="1.3" stroke-linecap="butt" stroke-dasharray="5 3" stroke-dashoffset="0"/>
<line x1="1228.5" y1="338.6" x2="1298.5" y2="409.6" stroke="#d0d0d0" stroke-width="1.3" stroke-linecap="butt" stroke-dasharray="5 3" stroke-dashoffset="0"/>
<line x1="1237.5" y1="338.7" x2="1307.5" y2="409.7" stroke="#d0d0d0" stroke-width="1.3" stroke-linecap="butt" stroke-dasharray="5 3" stroke-dashoffset="0"/>
<line x1="1246.5" y1="338.7" x2="1316.5" y2="409.8" stroke="#d0d0d0" stroke-width="1.3" stroke-linecap="butt" stroke-dasharray="5 3" stroke-dashoffset="0"/>
<line x1="1255.5" y1="338.8" x2="1325.5" y2="409.8" stroke="#d0d0d0" stroke-width="1.3" stroke-linecap="butt" stroke-dasharray="5 3" stroke-dashoffset="0"/>
<line x1="1264.5" y1="338.9" x2="1334.5" y2="409.9" stroke="#d0d0d0" stroke-width="1.3" stroke-linecap="butt" stroke-dasharray="5 3" stroke-dashoffset="0"/>
</g>
<circle cx="1133.5" cy="341.9" r="6" fill="#fff" stroke="#1c1c1c" stroke-width="2.2"/>
<path d="M 1394.2 296.6 L 1393.1 317.8 Q 1394.9 335.2 1413.5 335.4 Q 1432.1 335.5 1434.3 318.1 L 1433.4 296.9" fill="none" stroke="#3a3a3a" stroke-width="4.5"/>
<path d="M 1399.2 304.7 L 1399.1 317.9 Q 1400 329.3 1413.6 329.4 Q 1427.2 329.5 1428.3 318.1 L 1428.4 304.9 Z" fill="none" stroke="#1c1c1c" stroke-width="1.8"/>
<line x1="1399.2" y1="304.7" x2="1428.4" y2="304.9" stroke="#1c1c1c" stroke-width="1.5" stroke-linecap="butt"/>
<circle cx="1413.7" cy="313" r="2.8" fill="#222" stroke="#1c1c1c" stroke-width="1"/>
<path d="M 1322.8 297.3 L 1324.7 314.3 L 1332.6 320.2 L 1362.4 320.4 L 1370.5 314.6 L 1372.6 297.7" fill="#fff" stroke="#1c1c1c" stroke-width="2.2"/>
<line x1="1328.8" y1="297.3" x2="1330.7" y2="312.4" stroke="#1c1c1c" stroke-width="1.6" stroke-linecap="butt"/>
<line x1="1366.6" y1="297.6" x2="1364.5" y2="312.6" stroke="#1c1c1c" stroke-width="1.6" stroke-linecap="butt"/>
<rect x="1343.6" y="312.3" width="7.9" height="9.1" fill="#444" stroke="none"/>
<ellipse cx="1346.8" cy="346.5" rx="19.4" ry="25.6" fill="#fff" stroke="#3a3a3a" stroke-width="4.5"/>
<ellipse cx="1346.8" cy="351.5" rx="12.4" ry="13.6" fill="none" stroke="#1c1c1c" stroke-width="1.8"/>
<path d="M 1338.9 340.4 L 1338.8 352.4 Q 1346.7 360.5 1354.8 352.5 L 1354.9 340.5" fill="none" stroke="#1c1c1c" stroke-width="2"/>
<line x1="1338.8" y1="348.4" x2="1354.8" y2="348.5" stroke="#1c1c1c" stroke-width="1.8" stroke-linecap="butt"/>
<rect x="1238.6" y="325.4" width="75.9" height="95.7" fill="#fff" stroke="#1c1c1c" stroke-width="2.2"/>
<rect x="1243.6" y="330.1" width="65.4" height="85.6" fill="none" stroke="#1c1c1c" stroke-width="2.2" rx="4"/>
<clipPath id="shc2"><rect x="1250.5" y="337.5" width="52.2" height="71.5"/></clipPath>
<rect x="1250.5" y="337.5" width="52.2" height="71.5" fill="#4d4d52" stroke="#222" stroke-width="2" stroke-dasharray="6 2"/>
<g clip-path="url(#shc2)">
<line x1="1160" y1="407.9" x2="1231.6" y2="337.3" stroke="#d0d0d0" stroke-width="1.3" stroke-linecap="butt" stroke-dasharray="5 3" stroke-dashoffset="0"/>
<line x1="1169" y1="408" x2="1240.6" y2="337.4" stroke="#d0d0d0" stroke-width="1.3" stroke-linecap="butt" stroke-dasharray="5 3" stroke-dashoffset="0"/>
<line x1="1178" y1="408" x2="1249.6" y2="337.5" stroke="#d0d0d0" stroke-width="1.3" stroke-linecap="butt" stroke-dasharray="5 3" stroke-dashoffset="0"/>
<line x1="1187" y1="408.1" x2="1258.6" y2="337.5" stroke="#d0d0d0" stroke-width="1.3" stroke-linecap="butt" stroke-dasharray="5 3" stroke-dashoffset="0"/>
<line x1="1196" y1="408.2" x2="1267.6" y2="337.6" stroke="#d0d0d0" stroke-width="1.3" stroke-linecap="butt" stroke-dasharray="5 3" stroke-dashoffset="0"/>
<line x1="1205" y1="408.2" x2="1276.6" y2="337.7" stroke="#d0d0d0" stroke-width="1.3" stroke-linecap="butt" stroke-dasharray="5 3" stroke-dashoffset="0"/>
<line x1="1214" y1="408.3" x2="1285.6" y2="337.7" stroke="#d0d0d0" stroke-width="1.3" stroke-linecap="butt" stroke-dasharray="5 3" stroke-dashoffset="0"/>
<line x1="1223" y1="408.4" x2="1294.6" y2="337.8" stroke="#d0d0d0" stroke-width="1.3" stroke-linecap="butt" stroke-dasharray="5 3" stroke-dashoffset="0"/>
<line x1="1232" y1="408.4" x2="1303.6" y2="337.9" stroke="#d0d0d0" stroke-width="1.3" stroke-linecap="butt" stroke-dasharray="5 3" stroke-dashoffset="0"/>
<line x1="1241" y1="408.5" x2="1312.6" y2="337.9" stroke="#d0d0d0" stroke-width="1.3" stroke-linecap="butt" stroke-dasharray="5 3" stroke-dashoffset="0"/>
<line x1="1250" y1="408.6" x2="1321.6" y2="338" stroke="#d0d0d0" stroke-width="1.3" stroke-linecap="butt" stroke-dasharray="5 3" stroke-dashoffset="0"/>
<line x1="1259" y1="408.6" x2="1330.6" y2="338.1" stroke="#d0d0d0" stroke-width="1.3" stroke-linecap="butt" stroke-dasharray="5 3" stroke-dashoffset="0"/>
<line x1="1268" y1="408.7" x2="1339.6" y2="338.1" stroke="#d0d0d0" stroke-width="1.3" stroke-linecap="butt" stroke-dasharray="5 3" stroke-dashoffset="0"/>
<line x1="1277" y1="408.8" x2="1348.6" y2="338.2" stroke="#d0d0d0" stroke-width="1.3" stroke-linecap="butt" stroke-dasharray="5 3" stroke-dashoffset="0"/>
<line x1="1286" y1="408.8" x2="1357.6" y2="338.3" stroke="#d0d0d0" stroke-width="1.3" stroke-linecap="butt" stroke-dasharray="5 3" stroke-dashoffset="0"/>
<line x1="1295" y1="408.9" x2="1366.6" y2="338.3" stroke="#d0d0d0" stroke-width="1.3" stroke-linecap="butt" stroke-dasharray="5 3" stroke-dashoffset="0"/>
<line x1="1304" y1="409" x2="1375.6" y2="338.4" stroke="#d0d0d0" stroke-width="1.3" stroke-linecap="butt" stroke-dasharray="5 3" stroke-dashoffset="0"/>
<line x1="1313" y1="409" x2="1384.6" y2="338.5" stroke="#d0d0d0" stroke-width="1.3" stroke-linecap="butt" stroke-dasharray="5 3" stroke-dashoffset="0"/>
<line x1="1322" y1="409.1" x2="1393.6" y2="338.5" stroke="#d0d0d0" stroke-width="1.3" stroke-linecap="butt" stroke-dasharray="5 3" stroke-dashoffset="0"/>
<line x1="1331" y1="409.2" x2="1402.6" y2="338.6" stroke="#d0d0d0" stroke-width="1.3" stroke-linecap="butt" stroke-dasharray="5 3" stroke-dashoffset="0"/>
<line x1="1340" y1="409.2" x2="1411.6" y2="338.7" stroke="#d0d0d0" stroke-width="1.3" stroke-linecap="butt" stroke-dasharray="5 3" stroke-dashoffset="0"/>
<line x1="1349" y1="409.3" x2="1420.6" y2="338.7" stroke="#d0d0d0" stroke-width="1.3" stroke-linecap="butt" stroke-dasharray="5 3" stroke-dashoffset="0"/>
<line x1="1358" y1="409.4" x2="1429.6" y2="338.8" stroke="#d0d0d0" stroke-width="1.3" stroke-linecap="butt" stroke-dasharray="5 3" stroke-dashoffset="0"/>
<line x1="1367" y1="409.4" x2="1438.6" y2="338.8" stroke="#d0d0d0" stroke-width="1.3" stroke-linecap="butt" stroke-dasharray="5 3" stroke-dashoffset="0"/>
<line x1="1376" y1="409.5" x2="1447.6" y2="338.9" stroke="#d0d0d0" stroke-width="1.3" stroke-linecap="butt" stroke-dasharray="5 3" stroke-dashoffset="0"/>
<line x1="1385" y1="409.6" x2="1456.6" y2="339" stroke="#d0d0d0" stroke-width="1.3" stroke-linecap="butt" stroke-dasharray="5 3" stroke-dashoffset="0"/>
</g>
<circle cx="1299.2" cy="341.8" r="6" fill="#fff" stroke="#1c1c1c" stroke-width="2.2"/>
<line x1="1091" y1="543.6" x2="1195" y2="544.4" stroke="#1c1c1c" stroke-width="2.2" stroke-linecap="butt"/>
<line x1="1090.8" y1="574.1" x2="1194.8" y2="574.9" stroke="#1c1c1c" stroke-width="2.2" stroke-linecap="butt"/>
<line x1="1090.5" y1="604.6" x2="1194.5" y2="605.4" stroke="#1c1c1c" stroke-width="2.2" stroke-linecap="butt"/>
<line x1="1090.3" y1="636.6" x2="1194.3" y2="637.4" stroke="#1c1c1c" stroke-width="2.2" stroke-linecap="butt"/>
<line x1="1090.1" y1="667.1" x2="1194.1" y2="667.9" stroke="#1c1c1c" stroke-width="2.2" stroke-linecap="butt"/>
<line x1="1091.8" y1="437.2" x2="1090.1" y2="669.6" stroke="#1c1c1c" stroke-width="2" stroke-linecap="butt"/>
<line x1="1091" y1="540.6" x2="1155.8" y2="437.7" stroke="#1c1c1c" stroke-width="2.2" stroke-linecap="butt"/>
<line x1="1091" y1="540.6" x2="1195.4" y2="484.4" stroke="#1c1c1c" stroke-width="2.2" stroke-linecap="butt"/>
<path d="M 1078.4 491.5 L 1142.4 492 Q 1150 492 1149.9 499 L 1148.8 646" fill="none" stroke="#1c1c1c" stroke-width="2.2"/>
<circle cx="1091.4" cy="491.6" r="5" fill="none" stroke="#1c1c1c" stroke-width="1.8"/>
<polygon points="1135.2,645.9 1162.2,646.1 1148.8,655" fill="#fff" stroke="#1c1c1c" stroke-width="2.2" stroke-linejoin="miter"/>
<line x1="1235" y1="541.7" x2="1342" y2="542.4" stroke="#1c1c1c" stroke-width="2.2" stroke-linecap="butt"/>
<line x1="1234.8" y1="573.7" x2="1341.8" y2="574.4" stroke="#1c1c1c" stroke-width="2.2" stroke-linecap="butt"/>
<line x1="1234.6" y1="604.4" x2="1341.5" y2="605.1" stroke="#1c1c1c" stroke-width="2.2" stroke-linecap="butt"/>
<line x1="1234.3" y1="636.3" x2="1341.3" y2="637" stroke="#1c1c1c" stroke-width="2.2" stroke-linecap="butt"/>
<line x1="1234.1" y1="666.7" x2="1341.1" y2="667.4" stroke="#1c1c1c" stroke-width="2.2" stroke-linecap="butt"/>
<line x1="1342.8" y1="436.5" x2="1342" y2="540.4" stroke="#1c1c1c" stroke-width="2" stroke-linecap="butt"/>
<line x1="1342" y1="540" x2="1275.8" y2="436" stroke="#1c1c1c" stroke-width="2.2" stroke-linecap="butt"/>
<line x1="1342" y1="540" x2="1236.4" y2="483.7" stroke="#1c1c1c" stroke-width="2.2" stroke-linecap="butt"/>
<path d="M 1355.4 490.5 L 1292.4 490.1 Q 1285.1 490 1285 497 L 1283.9 647" fill="none" stroke="#1c1c1c" stroke-width="2.2"/>
<circle cx="1343" cy="490.5" r="5" fill="none" stroke="#1c1c1c" stroke-width="1.8"/>
<polygon points="1270.3,644.9 1297.3,645.1 1283.9,654" fill="#fff" stroke="#1c1c1c" stroke-width="2.2" stroke-linejoin="miter"/>
<rect x="1151.9" y="690.1" width="66.8" height="22.2" fill="#fff" stroke="#1c1c1c" stroke-width="2.4"/>
<polyline points="1212.9,694.5 1157.9,697.1 1212.8,703.5 1157.8,706.8" fill="none" stroke="#1c1c1c" stroke-width="1.8" stroke-linejoin="miter"/>
<line x1="1157.8" y1="706.8" x2="1163.8" y2="702.8" stroke="#1c1c1c" stroke-width="1.5" stroke-linecap="butt"/>
<rect x="1267.5" y="693.9" width="63.9" height="62.5" fill="#fff" stroke="#1c1c1c" stroke-width="2.4"/>
<rect x="1255.7" y="778.8" width="69.7" height="71.5" fill="#fff" stroke="#1c1c1c" stroke-width="2.4"/>
<circle cx="1132.9" cy="871.9" r="35" fill="none" stroke="#333" stroke-width="3.2"/>
<circle cx="1132.9" cy="871.9" r="31.5" fill="none" stroke="#333" stroke-width="1.5"/>
<rect x="1199" y="878.9" width="115.3" height="27.1" fill="#fff" stroke="#1c1c1c" stroke-width="2.4"/>
<rect x="1198.6" y="940.4" width="116.1" height="26.9" fill="#fff" stroke="#1c1c1c" stroke-width="2.4"/>
<circle cx="1151.8" cy="973.5" r="35" fill="none" stroke="#333" stroke-width="3.2"/>
<circle cx="1151.8" cy="973.5" r="31.5" fill="none" stroke="#333" stroke-width="1.5"/>
<rect x="1297.7" y="988.1" width="21.5" height="65" fill="#fff" stroke="#1c1c1c" stroke-width="2.4"/>
<polyline points="1301.3,1047 1304.7,994.2 1310.3,1047 1314.7,994.3" fill="none" stroke="#1c1c1c" stroke-width="1.8" stroke-linejoin="miter"/>
<rect x="1117.5" y="1016.8" width="63.6" height="61.5" fill="#fff" stroke="#1c1c1c" stroke-width="2.4"/>
<rect x="1119" y="1086.8" width="67.5" height="70" fill="#fff" stroke="#1c1c1c" stroke-width="2.4"/>
<line x1="1112.6" y1="1011.8" x2="1111.5" y2="1158.8" stroke="#1c1c1c" stroke-width="2" stroke-linecap="butt"/>
<line x1="1082.6" y1="932.6" x2="1081.2" y2="1161.6" stroke="#333" stroke-width="1.6" stroke-linecap="butt"/>
<text x="1141.5" y="744.4" font-size="28" fill="#1c1c1c" font-weight="normal" text-anchor="start" textLength="73.7" lengthAdjust="spacingAndGlyphs">locale</text>
<text x="1132.8" y="779.4" font-size="28" fill="#1c1c1c" font-weight="normal" text-anchor="start" textLength="90.2" lengthAdjust="spacingAndGlyphs">tecnico</text>
<text x="1140.6" y="805" font-size="23" fill="#1c1c1c" font-weight="normal" text-anchor="start" textLength="76.5" lengthAdjust="spacingAndGlyphs">5.10mq</text>
<text x="1108.5" y="832.7" font-size="29" fill="#1c1c1c" font-weight="normal" text-anchor="start" textLength="150.8" lengthAdjust="spacingAndGlyphs">Tecnikraum</text>
<text x="1271.3" y="717.4" font-size="17" fill="#1c1c1c" font-weight="normal" text-anchor="start" textLength="37.4" lengthAdjust="spacingAndGlyphs">lava-</text>
<text x="1271.6" y="736.5" font-size="17" fill="#1c1c1c" font-weight="normal" text-anchor="start" textLength="58.6" lengthAdjust="spacingAndGlyphs">asciuga</text>
<text x="1269" y="820.9" font-size="22.6" fill="#1c1c1c" font-weight="normal" text-anchor="start" textLength="49" lengthAdjust="spacingAndGlyphs">PAC</text>
<text x="1116.2" y="867.8" font-size="19" fill="#1c1c1c" font-weight="normal" text-anchor="start" textLength="32.4" lengthAdjust="spacingAndGlyphs">250</text>
<text x="1144.9" y="893" font-size="19" fill="#1c1c1c" font-weight="normal" text-anchor="start" textLength="4.5" lengthAdjust="spacingAndGlyphs">l</text>
<text x="1207.4" y="897.5" font-size="20" fill="#1c1c1c" font-weight="normal" text-anchor="start" textLength="100" lengthAdjust="spacingAndGlyphs">batt. acqua</text>
<text x="1131.9" y="970.6" font-size="19" fill="#1c1c1c" font-weight="normal" text-anchor="start" textLength="33" lengthAdjust="spacingAndGlyphs">250</text>
<text x="1160.7" y="996.1" font-size="19" fill="#1c1c1c" font-weight="normal" text-anchor="start" textLength="4.5" lengthAdjust="spacingAndGlyphs">l</text>
<text x="1208.5" y="956.5" font-size="20" fill="#1c1c1c" font-weight="normal" text-anchor="start" textLength="100.3" lengthAdjust="spacingAndGlyphs">batt. acqua</text>
<text x="1122.1" y="1042.3" font-size="17" fill="#1c1c1c" font-weight="normal" text-anchor="start" textLength="35.9" lengthAdjust="spacingAndGlyphs">lava-</text>
<text x="1122.7" y="1062.3" font-size="17" fill="#1c1c1c" font-weight="normal" text-anchor="start" textLength="57.1" lengthAdjust="spacingAndGlyphs">asciuga</text>
<text x="1213.9" y="1035.5" font-size="28" fill="#1c1c1c" font-weight="normal" text-anchor="start" textLength="73.5" lengthAdjust="spacingAndGlyphs">locale</text>
<text x="1204.1" y="1069.5" font-size="28" fill="#1c1c1c" font-weight="normal" text-anchor="start" textLength="91" lengthAdjust="spacingAndGlyphs">tecnico</text>
<text x="1204.5" y="1103.9" font-size="23" fill="#1c1c1c" font-weight="normal" text-anchor="start" textLength="79.8" lengthAdjust="spacingAndGlyphs">5.10mq</text>
<text x="1209.7" y="1135.5" font-size="29" fill="#1c1c1c" font-weight="normal" text-anchor="start" textLength="150" lengthAdjust="spacingAndGlyphs">Tecnikraum</text>
<text x="1123.2" y="1129.9" font-size="22.6" fill="#1c1c1c" font-weight="normal" text-anchor="start" textLength="46.5" lengthAdjust="spacingAndGlyphs">PAC</text>
<text x="572.8" y="629.8" font-size="28" fill="#1c1c1c" font-weight="normal" text-anchor="start" textLength="178.5" lengthAdjust="spacingAndGlyphs">Kuche&#160; cucina</text>
<text x="628.2" y="654.2" font-size="22.6" fill="#1c1c1c" font-weight="normal" text-anchor="start" textLength="89" lengthAdjust="spacingAndGlyphs">10.10mq</text>
<text x="622.8" y="710.2" font-size="28" fill="#1c1c1c" font-weight="normal" text-anchor="start" textLength="91" lengthAdjust="spacingAndGlyphs">camino</text>
<text x="888" y="544.6" font-size="29" fill="#1c1c1c" font-weight="normal" text-anchor="start" textLength="157" lengthAdjust="spacingAndGlyphs">korrodierren</text>
<text x="895.7" y="585.9" font-size="29" fill="#1c1c1c" font-weight="normal" text-anchor="start" textLength="149" lengthAdjust="spacingAndGlyphs">disimpegno</text>
<text x="919.1" y="619.3" font-size="23" fill="#1c1c1c" font-weight="normal" text-anchor="start" textLength="77.3" lengthAdjust="spacingAndGlyphs">6.10mq</text>
<text x="992.3" y="362.2" font-size="22.5" fill="#1c1c1c" font-weight="normal" text-anchor="start" textLength="65" lengthAdjust="spacingAndGlyphs">doccia</text>
<text x="992.1" y="398.7" font-size="23" fill="#1c1c1c" font-weight="normal" text-anchor="start" textLength="76.6" lengthAdjust="spacingAndGlyphs">2.50mq</text>
<text x="1012.6" y="428.7" font-size="27.3" fill="#1c1c1c" font-weight="normal" text-anchor="start" textLength="48.5" lengthAdjust="spacingAndGlyphs">Bad</text>
<text x="1094.2" y="520.6" font-size="23" fill="#1c1c1c" font-weight="normal" text-anchor="start" textLength="110" lengthAdjust="spacingAndGlyphs">vano scala</text>
<text x="1093.9" y="550.1" font-size="23" fill="#1c1c1c" font-weight="normal" text-anchor="start" textLength="64" lengthAdjust="spacingAndGlyphs">4.2mq</text>
<text x="1240.7" y="524.7" font-size="23" fill="#1c1c1c" font-weight="normal" text-anchor="start" textLength="111.4" lengthAdjust="spacingAndGlyphs">vano scala</text>
<text x="1240.9" y="552.7" font-size="23" fill="#1c1c1c" font-weight="normal" text-anchor="start" textLength="64" lengthAdjust="spacingAndGlyphs">4.2mq</text>
<text x="1371.4" y="355" font-size="22.5" fill="#1c1c1c" font-weight="normal" text-anchor="start" textLength="66" lengthAdjust="spacingAndGlyphs">doccia</text>
<text x="1366" y="386.1" font-size="23" fill="#1c1c1c" font-weight="normal" text-anchor="start" textLength="76.4" lengthAdjust="spacingAndGlyphs">2.50mq</text>
<text x="1366.9" y="421.4" font-size="27.3" fill="#1c1c1c" font-weight="normal" text-anchor="start" textLength="48" lengthAdjust="spacingAndGlyphs">Bad</text>
<text x="1405.6" y="542.9" font-size="29" fill="#1c1c1c" font-weight="normal" text-anchor="start" textLength="156.4" lengthAdjust="spacingAndGlyphs">korrodierren</text>
<text x="1398.7" y="584.9" font-size="29" fill="#1c1c1c" font-weight="normal" text-anchor="start" textLength="149" lengthAdjust="spacingAndGlyphs">disimpegno</text>
<text x="1429" y="616.1" font-size="23" fill="#1c1c1c" font-weight="normal" text-anchor="start" textLength="77.1" lengthAdjust="spacingAndGlyphs">6.10mq</text>
<text x="1733.3" y="637.3" font-size="23" fill="#1c1c1c" font-weight="normal" text-anchor="start" textLength="77" lengthAdjust="spacingAndGlyphs">9.25mq</text>
<text x="1685.1" y="670" font-size="28" fill="#1c1c1c" font-weight="normal" text-anchor="start" textLength="178" lengthAdjust="spacingAndGlyphs">Kuche&#160; cucina</text>
<text x="1720.7" y="728.8" font-size="28" fill="#1c1c1c" font-weight="normal" text-anchor="start" textLength="93" lengthAdjust="spacingAndGlyphs">camino</text>
<text x="656.3" y="905.4" font-size="26.4" fill="#1c1c1c" font-weight="normal" text-anchor="start" textLength="116" lengthAdjust="spacingAndGlyphs">soggiorno</text>
<text x="621.1" y="934.8" font-size="29.4" fill="#1c1c1c" font-weight="normal" text-anchor="start" textLength="173" lengthAdjust="spacingAndGlyphs">Wohnzimmer</text>
<text x="653.5" y="965.4" font-size="22.9" fill="#1c1c1c" font-weight="normal" text-anchor="start" textLength="89.1" lengthAdjust="spacingAndGlyphs">23.00mq</text>
<text x="1649" y="873.2" font-size="26.4" fill="#1c1c1c" font-weight="normal" text-anchor="start" textLength="115.6" lengthAdjust="spacingAndGlyphs">soggiorno</text>
<text x="1614.4" y="903" font-size="29.4" fill="#1c1c1c" font-weight="normal" text-anchor="start" textLength="172.6" lengthAdjust="spacingAndGlyphs">Wohnzimmer</text>
<text x="1643.2" y="927.7" font-size="22.9" fill="#1c1c1c" font-weight="normal" text-anchor="start" textLength="90.5" lengthAdjust="spacingAndGlyphs">23.00mq</text>
<polygon points="1072,684.9 1343,684.5 1341.5,1162 1070.5,1161.5" fill="none" stroke="#e3dc3c" stroke-width="2.6" stroke-linejoin="miter"/>
<line x1="644.2" y1="245.3" x2="742.2" y2="246" stroke="#de2a4c" stroke-width="3.4" stroke-linecap="butt" stroke-dasharray="29 9 4 9 4 11" stroke-dashoffset="0"/>
<line x1="742.2" y1="246" x2="743" y2="1258.6" stroke="#de2a4c" stroke-width="3.4" stroke-linecap="butt" stroke-dasharray="30 9 4 9 4 10" stroke-dashoffset="0"/>
<line x1="743" y1="1258.6" x2="643.3" y2="1257.8" stroke="#de2a4c" stroke-width="3.4" stroke-linecap="butt" stroke-dasharray="29 9 4 9 4 11" stroke-dashoffset="0"/>
<line x1="467.4" y1="752" x2="1985.3" y2="781.2" stroke="#de2a4c" stroke-width="3.4" stroke-linecap="butt" stroke-dasharray="29 9 4 9 4 11" stroke-dashoffset="0"/>
<line x1="467.4" y1="752" x2="466.9" y2="828" stroke="#de2a4c" stroke-width="3.4" stroke-linecap="butt"/>
<line x1="1985.3" y1="781.2" x2="1984.8" y2="842.2" stroke="#de2a4c" stroke-width="3.4" stroke-linecap="butt"/>
<polyline points="1218.5,204.5 1215,675.5 1351,676.5 1349.2,928.5 1344.9,928.5" fill="none" stroke="#de2a4c" stroke-width="2.6" stroke-linejoin="miter" stroke-dasharray="14 4 3 4"/>
<line x1="1081.5" y1="1161.6" x2="1080.9" y2="1243.6" stroke="#de2a4c" stroke-width="2.6" stroke-linecap="butt" stroke-dasharray="14 4 3 4" stroke-dashoffset="0"/>
<line x1="1343" y1="1160.5" x2="1342.7" y2="1326.5" stroke="#de2a4c" stroke-width="2.6" stroke-linecap="butt"/>
<circle cx="2057.3" cy="1210.5" r="40.7" fill="none" stroke="#2a8ad6" stroke-width="3.3"/>
<line x1="2025.6" y1="1186.5" x2="2091.9" y2="1235.4" stroke="#2a8ad6" stroke-width="3.3" stroke-linecap="butt"/>
<line x1="2081.4" y1="1176.9" x2="2030.6" y2="1248.5" stroke="#2a8ad6" stroke-width="3.3" stroke-linecap="butt"/>
<line x1="2025.3" y1="1186.5" x2="2074" y2="1179.6" stroke="#2a8ad6" stroke-width="1.6" stroke-linecap="butt"/>
<line x1="2025.3" y1="1186.5" x2="2034.3" y2="1240.5" stroke="#2a8ad6" stroke-width="1.6" stroke-linecap="butt"/>
<line x1="2069.2" y1="1198.8" x2="2094.1" y2="1216" stroke="#2a8ad6" stroke-width="1.3" stroke-linecap="butt"/>
<line x1="2051.8" y1="1225.7" x2="2073.6" y2="1241.8" stroke="#2a8ad6" stroke-width="1.3" stroke-linecap="butt"/>
<path d="M 2106 1170.7 Q 2121.2 1196.2 2116.5 1228.1" fill="none" stroke="#2a8ad6" stroke-width="3.5"/>
<polygon points="2112.1,1216.1 2121.1,1217.2 2116.5,1230.1" fill="#2a8ad6" stroke="#2a8ad6" stroke-width="1.5" stroke-linejoin="miter"/>
<path d="M 2094.8 1261 Q 2066.7 1273.8 2034.1 1268.5" fill="none" stroke="#2a8ad6" stroke-width="3.5"/>
<polygon points="2047.7,1264.6 2047.7,1273.6 2034.7,1268.5" fill="#2a8ad6" stroke="#2a8ad6" stroke-width="1.5" stroke-linejoin="miter"/>
<circle cx="2091" cy="1163.8" r="8.5" fill="none" stroke="#86bb9a" stroke-width="4"/>
<circle cx="2107.3" cy="1247.1" r="10" fill="none" stroke="#86bb9a" stroke-width="5"/>
<circle cx="2020.8" cy="1260.4" r="8.5" fill="none" stroke="#86bb9a" stroke-width="3.5"/>
<polyline points="1993.4,1170.2 2013.5,1162.4 1998.3,1180.3 2014.4,1171.4" fill="none" stroke="#1f7a4a" stroke-width="2.6" stroke-linejoin="miter"/>
</g>
</svg>
</body></html>
